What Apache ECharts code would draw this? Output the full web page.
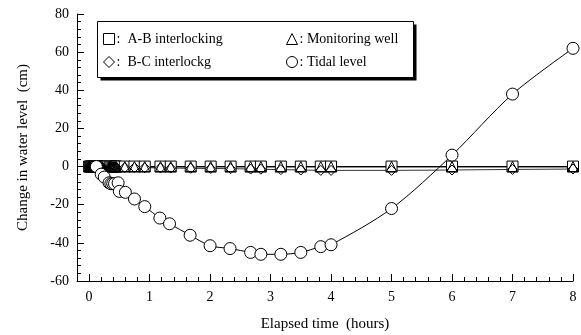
<!DOCTYPE html>
<html>
<head>
<meta charset="utf-8">
<script src="https://cdn.jsdelivr.net/npm/echarts@6/dist/echarts.min.js"></script>
<style>
  html, body { margin: 0; padding: 0; background: #fff; }
  #main { width: 581px; height: 335px; }
</style>
</head>
<body>
<div id="main"></div>
<script>
// elapsed time (hours) for the well / interlocking readings
var wellTime = [0, 0.017, 0.033, 0.05, 0.067, 0.083, 0.1, 0.117, 0.133, 0.15, 0.167, 0.183, 0.2, 0.217,
  0.35, 0.37, 0.39, 0.41, 0.43, 0.45, 0.59, 0.75, 0.92, 1.18, 1.35, 1.68, 2.01, 2.34, 2.67, 2.84,
  3.17, 3.5, 3.83, 4.0, 5, 6, 7, 8]
var abLevel = [0, 0, 0, 0, 0, 0, 0, 0, 0, 0, 0, 0, 0, 0,
  0, 0, 0, 0, 0, 0, 0, 0, 0, 0, 0, 0, 0, 0, 0, 0,
  0, 0, 0, 0, 0, 0, 0, 0]
var bcLevel = [0, 0, 0, 0, 0, 0, 0, 0, 0, 0, 0, 0, -0.2, -0.2,
  -0.3, -0.3, -0.3, -0.4, -0.4, -0.4, -0.5, -0.5, -0.6, -0.7, -0.8, -0.9, -1, -1.1, -1.3, -1.4,
  -1.6, -1.8, -2, -2, -2, -1.8, -1.5, -1.3]
var wellLevel = [0, 0, 0, 0, 0, 0, 0, 0, 0, 0, 0, 0, 0, 0,
  0, 0, 0, 0, 0, 0, 0, 0, 0, 0, 0, 0, 0, 0, 0, 0,
  0, 0, 0, 0, 0, 0, 0, 0]

// tidal level readings
var tideTime = [0.12, 0.2, 0.25, 0.33, 0.36, 0.39, 0.42, 0.48, 0.5, 0.6, 0.75, 0.92, 1.17, 1.33, 1.67,
  2.0, 2.33, 2.67, 2.84, 3.17, 3.5, 3.83, 4.0, 5, 6, 7, 8]
var tideLevel = [0, -4, -5.5, -8.5, -9, -9, -9, -8.5, -13, -13.5, -17, -21, -27, -30, -36,
  -41.5, -43, -45, -46, -46, -45, -42, -41, -22, 6, 38, 62]

var xTicks = [0, 1, 2, 3, 4, 5, 6, 7, 8]
var names = ['A-B interlocking', 'B-C interlockg', 'Monitoring well', 'Tidal level']

function pairs(xs, ys) {
  return xs.map(function(x, i) { return [x, ys[i]] })
}

var font = '"Liberation Serif", "Times New Roman", serif'
var markStyle = { color: '#fff', borderColor: '#000', borderWidth: 1 }
var clearStyle = { color: 'rgba(255,255,255,0)', borderColor: '#000', borderWidth: 1 }

function legendAt(left, sep, data) {
  return {
    orient: 'vertical', left: left, top: 32, padding: 0, itemGap: 9, itemWidth: 11, itemHeight: 11,
    itemStyle: markStyle,
    textStyle: { fontFamily: font, fontSize: 14, color: '#000', padding: [0, 0, 0, -3] },
    formatter: function(n) { return sep + n },
    data: data
  }
}

var mychart = echarts.init(document.getElementById('main'))
mychart.setOption({
  animation: false,
  textStyle: { fontFamily: font, color: '#000' },
  grid: { left: 77, right: 8, top: 14, bottom: 54, outerBoundsMode: 'none' },
  graphic: [
    { type: 'rect', z: 1, shape: { x: 100.5, y: 24.5, width: 316, height: 56 }, style: { fill: '#000' } },
    { type: 'rect', z: 1, shape: { x: 97.5, y: 21.5, width: 316, height: 56 }, style: { fill: '#fff', stroke: '#000', lineWidth: 1 } }
  ],
  legend: [
    legendAt(103, ':  ', [{ name: names[0], icon: 'rect' }, { name: names[1], icon: 'diamond' }]),
    legendAt(286, ': ', [{ name: names[2], icon: 'triangle' }, { name: names[3], icon: 'circle' }])
  ],
  xAxis: [{
    type: 'value', min: -0.2, max: 8,
    name: 'Elapsed time  (hours)', nameLocation: 'middle', nameGap: 36,
    nameTextStyle: { fontFamily: font, fontSize: 15, color: '#000' },
    axisLine: { onZero: false, lineStyle: { color: '#000', width: 1 } },
    axisTick: { inside: true, length: 7, customValues: xTicks, lineStyle: { color: '#000' } },
    axisLabel: { customValues: xTicks, fontFamily: font, fontSize: 14, color: '#000', margin: 9 },
    splitLine: { show: false }
  }, {
    type: 'value', min: -0.2, max: 8, interval: 0.2, position: 'bottom',
    axisLine: { show: false, onZero: false },
    axisTick: { inside: true, length: 4, lineStyle: { color: '#000' } },
    axisLabel: { show: false },
    splitLine: { show: false }
  }],
  yAxis: {
    type: 'value', min: -60, max: 80, interval: 20,
    name: 'Change in water level  (cm)', nameLocation: 'middle', nameGap: 46,
    nameTextStyle: { fontFamily: font, fontSize: 15, color: '#000' },
    axisLine: { show: true, onZero: false, lineStyle: { color: '#000', width: 1 } },
    axisTick: { inside: true, length: 7, lineStyle: { color: '#000' } },
    minorTick: { show: true, splitNumber: 5, length: 4, lineStyle: { color: '#000' } },
    axisLabel: { fontFamily: font, fontSize: 14, color: '#000', margin: 8 },
    splitLine: { show: false }
  },
  series: [{
    name: names[0], type: 'line', symbol: 'rect', symbolSize: 11,
    itemStyle: markStyle, lineStyle: { color: '#000', width: 1.2 },
    data: pairs(wellTime, abLevel)
  }, {
    name: names[1], type: 'line', symbol: 'diamond', symbolSize: 10,
    itemStyle: clearStyle, lineStyle: { color: '#000', width: 0.8 },
    data: pairs(wellTime, bcLevel)
  }, {
    name: names[2], type: 'line', symbol: 'triangle', symbolSize: 10,
    itemStyle: clearStyle, lineStyle: { color: '#000', width: 1.2 },
    data: pairs(wellTime, wellLevel)
  }, {
    name: names[3], type: 'line', symbol: 'circle', symbolSize: 12, smooth: 0.3,
    itemStyle: markStyle, lineStyle: { color: '#000', width: 1 },
    data: pairs(tideTime, tideLevel)
  }]
})
</script>
</body>
</html>
